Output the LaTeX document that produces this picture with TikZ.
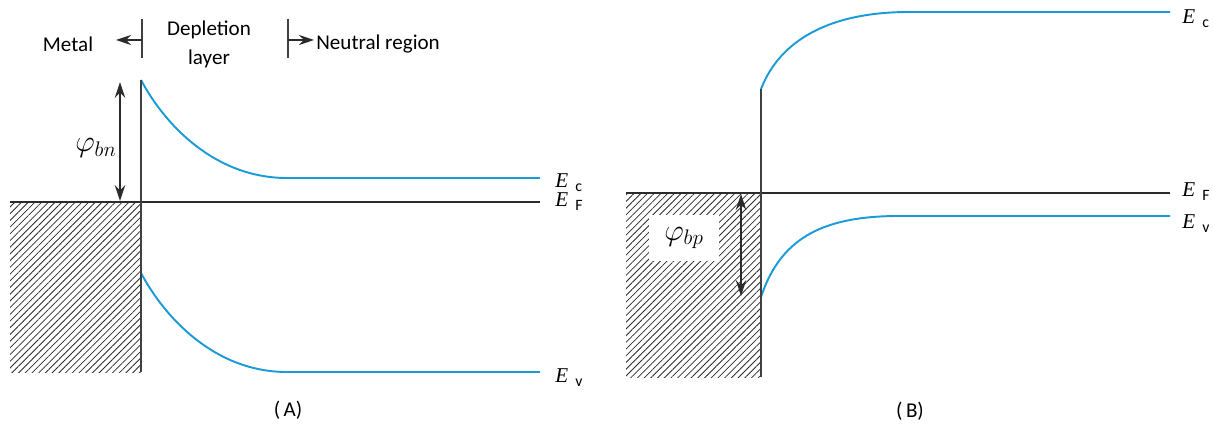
\documentclass[tikz,border=0pt]{standalone}
\usepackage{fontspec}
\setmainfont{Carlito}
\newfontfamily\efont{Liberation Serif}
\usepackage{tikz}
\usetikzlibrary{arrows.meta,positioning,patterns.meta}
\definecolor{Band}{HTML}{1A9BD7}
\definecolor{Ink}{HTML}{2B2B2B}
\newcommand{\lvl}[1]{{\efont\itshape E}\hspace{4pt}\smash{\raisebox{-0.35ex}{\small #1}}}

\begin{document}
\begin{tikzpicture}[x=0.02cm,y=-0.02cm,
    b/.style={draw=Band,line width=1.1pt},
    f/.style={draw=Ink,line width=1.1pt},
    w/.style={draw=Ink!90,line width=0.8pt},
    h/.style={pattern={Lines[angle=45,distance=2.7pt,line width=0.45pt]},pattern color=Ink},
    a/.style={{Stealth[length=3.2mm,width=2.1mm,inset=1.1mm]}-{Stealth[length=3.2mm,width=2.1mm,inset=1.1mm]},line width=0.7pt,draw=Ink},
    t/.style={-{Stealth[length=3mm,width=2mm,inset=1mm]},line width=0.6pt,draw=Ink},
    e/.style={anchor=west,inner sep=0pt,font=\fontsize{12}{14}\selectfont},
    lab/.style={inner sep=0pt,font=\fontsize{12}{16.5}\selectfont}]
  \useasboundingbox (0,0) rectangle (1213,425);
  % (A) n-type contact
  \fill[h] (10,202) rectangle (141,372);
  \draw[b] (141,80) .. controls (165,125) and (215,178) .. (287,178) -- (540,178);
  \draw[b] (141,273) .. controls (165,318) and (215,372) .. (287,372) -- (540,372);
  \draw[f] (10,202) -- (540,202);
  \draw[w] (141,80) -- (141,372);
  \node[e] (ecA) at (555,181) {\lvl{c}};
  \node[e] (efA) at (555,200) {\lvl{F}};
  \node[e] (evA) at (555,376) {\lvl{v}};
  \coordinate (bnTop) at (120,82);
  \coordinate (bnBot) at (120,201);
  \draw[a] (bnTop) -- (bnBot);
  \node[inner sep=0pt,font=\LARGE] (phibn) at (96,148) {$\varphi_{bn}$};
  \coordinate (tickL) at (142,40);
  \coordinate (tickR) at (288,40);
  \coordinate (tipL) at (116,40);
  \coordinate (tipR) at (314,40);
  \draw[w,line width=0.6pt] (142,19) -- (142,58) (288,19) -- (288,58);
  \draw[t] (tickL) -- (tipL);
  \draw[t] (tickR) -- (tipR);
  \node[lab] (metal) at (68,44) {Metal};
  \node[lab,align=center] (depl) at (209,44) {Depletion\\layer};
  \node[lab,anchor=west] (neut) at (316,44) {Neutral region};
  \node[lab] (capA) at (288,410) {(\,A)};
  % (B) p-type contact
  \fill[h] (626,193) rectangle (761,377);
  \node[fill=white,minimum width=1.4cm,minimum height=0.94cm,inner sep=0pt] (box) at (684,238) {};
  \draw[b] (761,89) .. controls (780,40) and (830,12) .. (909,12) -- (1170,12);
  \draw[b] (761,297) .. controls (780,240) and (820,216) .. (899,216) -- (1170,216);
  \draw[f] (626,193) -- (1170,193);
  \draw[w] (761,89) -- (761,377);
  \node[e] (ecB) at (1182,17) {\lvl{c}};
  \node[e] (efB) at (1182,190) {\lvl{F}};
  \node[e] (evB) at (1182,222) {\lvl{v}};
  \coordinate (bpTop) at (741,194);
  \coordinate (bpBot) at (741,296);
  \draw[a] (bpTop) -- (bpBot);
  \node[inner sep=0pt,font=\LARGE] (phibp) at (box) {$\varphi_{bp}$};
  \node[lab] (capB) at (910,411) {(\,B)};
\end{tikzpicture}
\end{document}
